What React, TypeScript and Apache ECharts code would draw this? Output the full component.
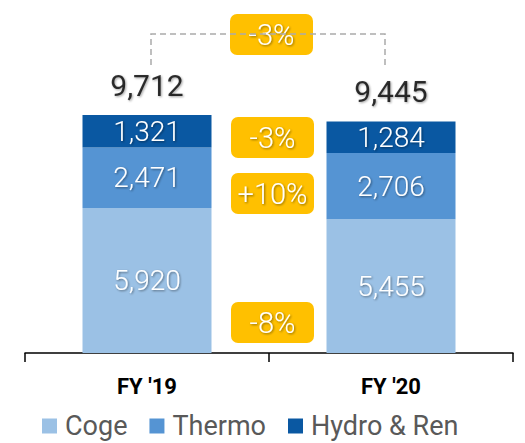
import React, { useEffect, useRef } from "react";
import * as echarts from "echarts";

const categories = ["FY '19", "FY '20"];
const coge = [5920, 5455];
const thermo = [2471, 2706];
const hydro = [1321, 1284];
const totals = [9712, 9445];
const seriesNames = ["Coge", "Thermo", "Hydro & Ren"];
const totalChange = "-3%";
const segmentChanges = ["-3%", "+10%", "-8%"];

const COLORS = ["#9BC1E5", "#5594D3", "#0A58A2"];
const FONT = "Roboto, 'Noto Sans', sans-serif";

const shadow = {
  textShadowColor: "rgba(0,0,0,0.45)",
  textShadowBlur: 2,
  textShadowOffsetX: 1,
  textShadowOffsetY: 1,
};

function badge(x: number, y: number, text: string) {
  return {
    type: "group",
    x,
    y,
    z: 100,
    children: [
      {
        type: "rect",
        shape: { x: 0, y: 0, width: 83, height: 41, r: 7 },
        style: { fill: "#FFC000" },
      },
      {
        type: "text",
        x: 41.5,
        y: 21,
        style: {
          text,
          fill: "#fff",
          font: `300 29px ${FONT}`,
          align: "center",
          verticalAlign: "middle",
          ...shadow,
        },
      },
    ],
  };
}

export default function App() {
  const ref = useRef<HTMLDivElement>(null);
  useEffect(() => {
    document.body.style.margin = "0";
    if (!ref.current) return;
    const chart = echarts.init(ref.current, undefined, { renderer: "svg" });
    const insideLabel = {
      show: true,
      position: "inside",
      color: "#fff",
      fontSize: 28,
      fontWeight: 300,
      fontFamily: FONT,
      formatter: (p: any) => Number(p.value).toLocaleString("en-US"),
      ...shadow,
    };
    const segs = [coge, thermo, hydro];
    chart.setOption({
      animation: false,
      grid: { left: 25, right: 12, top: 10, bottom: 90 },
      legend: {
        data: seriesNames,
        left: 37,
        top: 407,
        itemWidth: 15,
        itemHeight: 15,
        itemGap: 22,
        icon: "rect",
        textStyle: { color: "#595959", fontSize: 27, lineHeight: 28, fontFamily: FONT, padding: [0, 0, 0, 3] },
      },
      xAxis: {
        type: "category",
        data: categories,
        axisLine: { lineStyle: { color: "#000", width: 1.5 } },
        axisTick: { show: true, length: 9, inside: false, lineStyle: { color: "#000", width: 1.5 } },
        axisLabel: {
          color: "#000",
          fontSize: 22,
          fontWeight: "bold",
          fontFamily: FONT,
          margin: 22,
        },
      },
      yAxis: {
        type: "value",
        min: 0,
        max: 14000,
        show: false,
        splitLine: { show: false },
      },
      series: [
        ...segs.map((d, i) => ({
          name: seriesNames[i],
          type: "bar",
          stack: "total",
          barWidth: 129,
          data: d,
          itemStyle: { color: COLORS[i] },
          label: insideLabel,
        })),
        {
          name: "Total",
          type: "scatter",
          data: totals,
          symbolSize: 2,
          itemStyle: { color: "rgba(0,0,0,0)" },
          label: {
            show: true,
            position: "top",
            distance: 14,
            color: "#000",
            fontSize: 30,
            fontFamily: FONT,
            formatter: (p: any) => Number(p.value).toLocaleString("en-US"),
            ...shadow,
          },
        },
      ],
      graphic: [
        {
          type: "polyline",
          z: 50,
          shape: { points: [[151, 65], [151, 34], [385, 34], [385, 65]] },
          style: { stroke: "#AAAAAA", lineWidth: 1.5, lineDash: [6, 4], fill: "none" },
        },
        badge(230, 14, totalChange),
        badge(231, 117, segmentChanges[0]),
        badge(231, 173, segmentChanges[1]),
        badge(231, 302, segmentChanges[2]),
      ],
    });
    return () => chart.dispose();
  }, []);
  return <div ref={ref} style={{ width: 525, height: 443 }} />;
}
